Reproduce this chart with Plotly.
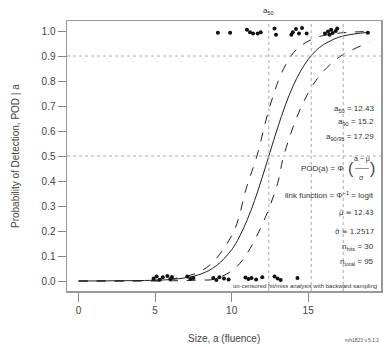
import plotly.graph_objects as go

# ---- data ----
size_grid = [0, 5, 6, 7, 8, 9, 10, 10.5, 11, 11.5, 12, 12.5, 13, 13.5, 14, 14.5, 15, 15.5, 16, 17, 18, 19]
pod_fit = [0.000, 0.003, 0.006, 0.013, 0.028, 0.061, 0.125, 0.176, 0.242, 0.322, 0.415, 0.514,
           0.612, 0.702, 0.778, 0.839, 0.886, 0.921, 0.945, 0.975, 0.988, 0.995]

upper_x = [0, 5, 6, 7, 8, 8.85, 10.15, 11.0, 11.65, 12.5, 13.4, 14.3, 15.6, 17.1, 18, 19]
upper_y = [0.000, 0.003, 0.008, 0.018, 0.040, 0.080, 0.20, 0.38, 0.50, 0.70, 0.85, 0.93, 0.975, 0.992, 0.996, 0.998]

lower_x = [0, 5, 7, 8, 8.85, 10.15, 11.0, 12.1, 13.0, 13.4, 14.5, 15.6, 16.7, 17.4, 19]
lower_y = [0.000, 0.000, 0.002, 0.004, 0.007, 0.047, 0.11, 0.24, 0.39, 0.50, 0.69, 0.81, 0.88, 0.91, 0.955]

hits_x = [9.1, 9.9, 11.0, 11.2, 11.4, 11.7, 11.9, 12.8, 12.9, 13.9, 14.0, 14.2, 14.4, 14.6, 14.9,
          16.1, 16.3, 16.4, 16.5, 16.6, 16.8, 16.9, 18.9]
hits_y = [0.993, 0.993, 1.005, 0.995, 0.990, 0.990, 0.995, 1.010, 0.985, 0.985, 0.995, 1.008, 0.990, 1.012,
          0.990, 0.990, 0.998, 0.985, 1.005, 0.992, 1.000, 1.010, 0.993]

miss_x = [4.9, 5.1, 5.3, 5.5, 5.8, 6.0, 6.1, 7.1, 7.3, 7.5, 8.8, 9.0, 9.2, 9.5, 9.8,
          10.9, 11.1, 11.3, 11.6, 12.0, 12.8, 13.0, 13.2, 14.3]
miss_y = [0.010, 0.018, 0.005, 0.015, 0.020, 0.008, 0.016, 0.018, 0.008, 0.012, 0.012, 0.004, 0.015,
          0.010, 0.006, 0.014, 0.008, 0.012, 0.006, 0.015, 0.018, 0.010, 0.004, 0.012]

x_ticks = [0, 5, 10, 15]
y_ticks = [0.0, 0.1, 0.2, 0.3, 0.4, 0.5, 0.6, 0.7, 0.8, 0.9, 1.0]
y_tick_labels = ["0.0", "0.1", "0.2", "0.3", "0.4", "0.5", "0.6", "0.7", "0.8", "0.9", "1.0"]

a50, a90, a9095 = 12.43, 15.2, 17.29
mu_hat, sigma_hat = 12.43, 1.2517
n_hits, n_total = 30, 95

FONT = "Liberation Sans"
INK = "#222"
GRID = "#aaaaaa"

fig = go.Figure()

fig.add_trace(go.Scatter(x=size_grid, y=pod_fit, mode="lines",
                         line=dict(color=INK, width=1, shape="spline"), showlegend=False))
fig.add_trace(go.Scatter(x=upper_x, y=upper_y, mode="lines",
                         line=dict(color=INK, width=1, dash="dash", shape="spline"), showlegend=False))
fig.add_trace(go.Scatter(x=lower_x, y=lower_y, mode="lines",
                         line=dict(color=INK, width=1, dash="dash", shape="spline"), showlegend=False))
fig.add_trace(go.Scatter(x=hits_x, y=hits_y, mode="markers",
                         marker=dict(color="#111", size=4, symbol="circle"), showlegend=False))
fig.add_trace(go.Scatter(x=miss_x, y=miss_y, mode="markers",
                         marker=dict(color="#111", size=4, symbol="circle"), showlegend=False))

# reference lines
for yv in (0.5, 0.9):
    fig.add_hline(y=yv, line=dict(color=GRID, width=1, dash="dot"))
for xv in (a50, a90, a9095):
    fig.add_vline(x=xv, line=dict(color=GRID, width=1, dash="dot"))

XR = 19.45  # right edge for the notes, in data units
ann_font = dict(family=FONT, size=8, color="#333")
hat_font = dict(family="DejaVu Sans", size=7, color="#333")
right_notes = [
    (0.69, f"a<sub>50</sub> = {a50}", ann_font),
    (0.635, f"a<sub>90</sub> = {a90}", ann_font),
    (0.578, f"a<sub>90/95</sub> = {a9095}", ann_font),
    (0.345, "link function = Φ<sup>−1</sup> = logit", ann_font),
    (0.272, f"μ̂ = {mu_hat}", hat_font),
    (0.195, f"σ̂ = {sigma_hat}", hat_font),
    (0.137, f"n<sub>hits</sub> = {n_hits}", ann_font),
    (0.078, f"n<sub>total</sub> = {n_total}", ann_font),
]
for yv, txt, fnt in right_notes:
    fig.add_annotation(x=XR, xref="x", y=yv, yref="y", text=txt, showarrow=False,
                       xanchor="right", yanchor="middle", font=fnt)

# POD formula as a fraction
fig.add_annotation(x=17.45, xref="x", y=0.45, yref="y", text="POD(a) = Φ", showarrow=False,
                   xanchor="right", yanchor="middle", font=ann_font)
fig.add_annotation(x=17.5, xref="x", y=0.45, yref="y", text="(", showarrow=False,
                   xanchor="left", yanchor="middle", font=dict(family=FONT, size=16, color="#444"))
fig.add_annotation(x=18.5, xref="x", y=0.49, yref="y", text="a − μ", showarrow=False,
                   xanchor="center", yanchor="middle", font=dict(family=FONT, size=7, color="#333"))
fig.add_annotation(x=18.5, xref="x", y=0.455, yref="y", text="——", showarrow=False,
                   xanchor="center", yanchor="middle", font=dict(family=FONT, size=7, color="#333"))
fig.add_annotation(x=18.5, xref="x", y=0.415, yref="y", text="σ", showarrow=False,
                   xanchor="center", yanchor="middle", font=dict(family=FONT, size=7, color="#333"))
fig.add_annotation(x=XR + 0.05, xref="x", y=0.45, yref="y", text=")", showarrow=False,
                   xanchor="right", yanchor="middle", font=dict(family=FONT, size=16, color="#444"))

# bottom note inside plot
fig.add_annotation(x=19.6, xref="x", y=0.0, yref="y", yshift=-5,
                   text="un-censored hit/miss analysis with backward sampling", showarrow=False,
                   xanchor="right", yanchor="middle", font=dict(family=FONT, size=6, color="#333"))

# top label over a50
fig.add_annotation(x=a50, xref="x", y=1.04, yref="y", yshift=3, text="a<sub>50</sub>",
                   showarrow=False, xanchor="center", yanchor="bottom",
                   font=dict(family=FONT, size=8, color="#333"))

# axis titles (as annotations, fixed positions)
fig.add_annotation(x=0.5, xref="paper", y=0, yref="paper", yshift=-47,
                   text="Size, a (fluence)", showarrow=False, xanchor="center", yanchor="middle",
                   font=dict(family=FONT, size=10, color="#444"))
fig.add_annotation(x=0, xref="paper", y=0.5, yref="paper", xshift=-52, textangle=-90,
                   text="Probability of Detection, POD | a", showarrow=False,
                   xanchor="center", yanchor="middle",
                   font=dict(family=FONT, size=10, color="#444"))

# version note
fig.add_annotation(x=1.0, xref="paper", y=0, yref="paper", yshift=-49,
                   text="mh1823 v.5.1.2", showarrow=False, xanchor="right", yanchor="middle",
                   font=dict(family=FONT, size=5, color="#555"))

fig.update_layout(
    width=388, height=347,
    margin=dict(l=67, r=7, t=21, b=56, autoexpand=False),
    paper_bgcolor="white", plot_bgcolor="white",
    font=dict(family=FONT, size=10, color="#444"),
    showlegend=False, hovermode=False,
)
fig.update_xaxes(range=[-0.76, 19.76], tickvals=x_ticks, ticks="outside", ticklen=9,
                 tickcolor="#888", showgrid=False, zeroline=False, automargin=False,
                 showline=True, linecolor="#999", linewidth=1.5, mirror=True,
                 tickfont=dict(family=FONT, size=10, color="#444"))
fig.update_yaxes(range=[-0.04, 1.04], tickvals=y_ticks, ticktext=y_tick_labels, ticks="outside",
                 ticklen=8, tickcolor="#888", showgrid=False, zeroline=False, automargin=False,
                 showline=True, linecolor="#999", linewidth=1.5, mirror=True,
                 tickfont=dict(family=FONT, size=10, color="#444"))

fig.write_html("out.html",
               config={"staticPlot": True, "displayModeBar": False},
               post_script="document.body.style.margin='0';document.body.style.padding='0';")
